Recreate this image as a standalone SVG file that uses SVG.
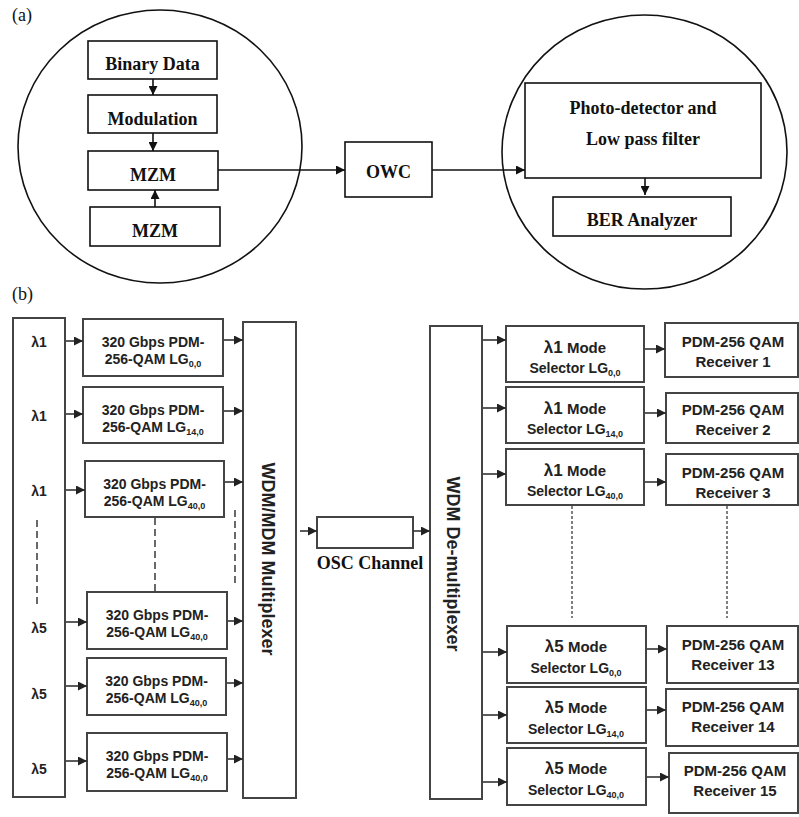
<svg xmlns="http://www.w3.org/2000/svg" width="799" height="817" viewBox="0 0 799 817">
<defs>
<style>
.bg{fill:#fff}
.a{fill:#fff;stroke:#111;stroke-width:1.6}
.al{fill:none;stroke:#111;stroke-width:1.6}
.b{fill:#fff;stroke:#444;stroke-width:2}
.bl{fill:none;stroke:#333;stroke-width:1.6}
.dash{fill:none;stroke:#444;stroke-width:1.6;stroke-dasharray:7 4}
.dot{fill:none;stroke:#555;stroke-width:1.5;stroke-dasharray:3 2}
.ts{font-family:"Liberation Serif","Times New Roman",serif;font-weight:bold;font-size:18px;fill:#111;text-anchor:middle}
.tl{font-family:"Liberation Serif","Times New Roman",serif;font-size:18px;fill:#111}
.tb{font-family:"Liberation Sans",Arial,sans-serif;font-weight:bold;font-size:14px;fill:#222;text-anchor:middle}
.tr{font-family:"Liberation Sans",Arial,sans-serif;font-weight:bold;font-size:15px;fill:#222;text-anchor:middle}
.tv{font-family:"Liberation Sans",Arial,sans-serif;font-weight:bold;font-size:18px;fill:#222;text-anchor:middle}
.sub{font-size:9px}
</style>
<marker id="ha" viewBox="0 0 10 10" refX="10" refY="5" markerWidth="10" markerHeight="9" markerUnits="userSpaceOnUse" orient="auto"><path d="M0,0 L10,5 L0,10 z" fill="#111"/></marker>
<marker id="hb" viewBox="0 0 10 10" refX="10" refY="5" markerWidth="10" markerHeight="9" markerUnits="userSpaceOnUse" orient="auto"><path d="M0,0 L10,5 L0,10 z" fill="#222"/></marker>
</defs>
<rect class="bg" x="0" y="0" width="799" height="817"/>

<!-- Part (a) -->
<text class="tl" x="12" y="21">(a)</text>
<ellipse class="al" cx="160" cy="146.5" rx="142" ry="136.5"/>
<ellipse class="al" cx="644.5" cy="152" rx="142.5" ry="137"/>

<g id="binary"><rect class="a" x="88" y="41" width="129" height="38"/><text class="ts" x="152.5" y="70">Binary Data</text></g>
<g id="modulation"><rect class="a" x="88" y="95" width="129" height="38"/><text class="ts" x="152.5" y="125">Modulation</text></g>
<g id="mzm1"><rect class="a" x="88" y="151" width="130" height="39"/><text class="ts" x="153" y="181">MZM</text></g>
<g id="mzm2"><rect class="a" x="90" y="207" width="130" height="39"/><text class="ts" x="155" y="237">MZM</text></g>
<g id="owc"><rect class="a" x="345" y="142" width="87" height="55"/><text class="ts" x="388.5" y="178" font-size="20">OWC</text></g>
<g id="photo"><rect class="a" x="525" y="83" width="236" height="95"/><text class="ts" x="643" y="114" font-size="20">Photo-detector and</text><text class="ts" x="643" y="145" font-size="20">Low pass filter</text></g>
<g id="ber"><rect class="a" x="553" y="197" width="178" height="39"/><text class="ts" x="642" y="226">BER Analyzer</text></g>

<g id="connectors-a">
<line class="al" x1="153" y1="79" x2="153" y2="95" marker-end="url(#ha)"/>
<line class="al" x1="153" y1="133" x2="153" y2="151" marker-end="url(#ha)"/>
<line class="al" x1="155" y1="207" x2="155" y2="190" marker-end="url(#ha)"/>
<line class="al" x1="218" y1="170" x2="345" y2="170" marker-end="url(#ha)"/>
<line class="al" x1="432" y1="170" x2="525" y2="170" marker-end="url(#ha)"/>
<line class="al" x1="645" y1="178" x2="645" y2="195" marker-end="url(#ha)"/>
</g>

<!-- Part (b) -->
<text class="tl" x="12" y="300">(b)</text>

<g id="lambda-col">
<rect class="b" x="13" y="318" width="52" height="479"/>
<text class="tb" font-size="16" x="39" y="347">λ1</text>
<text class="tb" font-size="16" x="39" y="421">λ1</text>
<text class="tb" font-size="16" x="39" y="496">λ1</text>
<text class="tb" font-size="16" x="39" y="633">λ5</text>
<text class="tb" font-size="16" x="39" y="699">λ5</text>
<text class="tb" font-size="16" x="39" y="774">λ5</text>
<line class="dash" x1="37" y1="520" x2="37" y2="607"/>
</g>

<g id="tx1"><rect class="b" x="83" y="319" width="140" height="57"/><text class="tb" x="153" y="347">320 Gbps PDM-</text><text class="tb" x="153" y="364">256-QAM LG<tspan class="sub" dy="3">0,0</tspan></text></g>
<g id="tx2"><rect class="b" x="83" y="387" width="140" height="56"/><text class="tb" x="153" y="415">320 Gbps PDM-</text><text class="tb" x="153" y="432">256-QAM LG<tspan class="sub" dy="3">14,0</tspan></text></g>
<g id="tx3"><rect class="b" x="85" y="461" width="139" height="56"/><text class="tb" x="154.5" y="489">320 Gbps PDM-</text><text class="tb" x="154.5" y="506">256-QAM LG<tspan class="sub" dy="3">40,0</tspan></text></g>
<g id="tx4"><rect class="b" x="87" y="592" width="140" height="57"/><text class="tb" x="157" y="620">320 Gbps PDM-</text><text class="tb" x="157" y="637">256-QAM LG<tspan class="sub" dy="3">40,0</tspan></text></g>
<g id="tx5"><rect class="b" x="87" y="658" width="139" height="57"/><text class="tb" x="156.5" y="686">320 Gbps PDM-</text><text class="tb" x="156.5" y="703">256-QAM LG<tspan class="sub" dy="3">40,0</tspan></text></g>
<g id="tx6"><rect class="b" x="87" y="733" width="140" height="58"/><text class="tb" x="157" y="761">320 Gbps PDM-</text><text class="tb" x="157" y="778">256-QAM LG<tspan class="sub" dy="3">40,0</tspan></text></g>

<g id="mux"><rect class="b" x="243" y="322" width="53" height="476"/><text class="tv" transform="translate(262,559) rotate(90)">WDM/MDM Multiplexer</text></g>

<g id="osc"><rect class="b" x="317" y="517" width="96" height="31"/><text class="ts" x="370" y="569">OSC Channel</text></g>

<g id="demux"><rect class="b" x="430" y="326" width="52" height="473"/><text class="tv" transform="translate(447,564) rotate(90)">WDM De-multiplexer</text></g>

<g id="sel1"><rect class="b" x="506" y="326" width="138" height="56"/><text class="tr" x="575" y="353"><tspan font-size="17">λ1</tspan> Mode</text><text class="tb" x="575" y="373">Selector LG<tspan class="sub" dy="3">0,0</tspan></text></g>
<g id="sel2"><rect class="b" x="506" y="387" width="138" height="56"/><text class="tr" x="575" y="414"><tspan font-size="17">λ1</tspan>  Mode</text><text class="tb" x="575" y="434">Selector LG<tspan class="sub" dy="3">14,0</tspan></text></g>
<g id="sel3"><rect class="b" x="506" y="449" width="138" height="56"/><text class="tr" x="575" y="476"><tspan font-size="17">λ1</tspan>  Mode</text><text class="tb" x="575" y="496">Selector LG<tspan class="sub" dy="3">40,0</tspan></text></g>
<g id="sel4"><rect class="b" x="507" y="626" width="139" height="57"/><text class="tr" x="576" y="652"><tspan font-size="17">λ5</tspan> Mode</text><text class="tb" x="576" y="673">Selector LG<tspan class="sub" dy="3">0,0</tspan></text></g>
<g id="sel5"><rect class="b" x="507" y="687" width="139" height="56"/><text class="tr" x="576" y="713"><tspan font-size="17">λ5</tspan> Mode</text><text class="tb" x="576" y="734">Selector LG<tspan class="sub" dy="3">14,0</tspan></text></g>
<g id="sel6"><rect class="b" x="507" y="748" width="139" height="57"/><text class="tr" x="576" y="774"><tspan font-size="17">λ5</tspan> Mode</text><text class="tb" x="576" y="795">Selector LG<tspan class="sub" dy="3">40,0</tspan></text></g>

<g id="rx1"><rect class="b" x="665" y="323" width="133" height="54"/><text class="tr" x="733" y="347">PDM-256 QAM</text><text class="tr" x="733" y="367">Receiver 1</text></g>
<g id="rx2"><rect class="b" x="666" y="393" width="132" height="50"/><text class="tr" x="733" y="415">PDM-256 QAM</text><text class="tr" x="733" y="435">Receiver 2</text></g>
<g id="rx3"><rect class="b" x="666" y="454" width="132" height="51"/><text class="tr" x="733" y="478">PDM-256 QAM</text><text class="tr" x="733" y="498">Receiver 3</text></g>
<g id="rx13"><rect class="b" x="667" y="626" width="131" height="57"/><text class="tr" x="733" y="650">PDM-256 QAM</text><text class="tr" x="733" y="670">Receiver 13</text></g>
<g id="rx14"><rect class="b" x="666" y="689" width="132" height="57"/><text class="tr" x="733" y="712">PDM-256 QAM</text><text class="tr" x="733" y="732">Receiver 14</text></g>
<g id="rx15"><rect class="b" x="669" y="753" width="129" height="60"/><text class="tr" x="735" y="776">PDM-256 QAM</text><text class="tr" x="735" y="796">Receiver 15</text></g>

<g id="connectors-b">
<line class="bl" x1="66" y1="341" x2="83" y2="341" marker-end="url(#hb)"/>
<line class="bl" x1="66" y1="414" x2="83" y2="414" marker-end="url(#hb)"/>
<line class="bl" x1="66" y1="490" x2="85" y2="490" marker-end="url(#hb)"/>
<line class="bl" x1="66" y1="622" x2="87" y2="622" marker-end="url(#hb)"/>
<line class="bl" x1="66" y1="686" x2="87" y2="686" marker-end="url(#hb)"/>
<line class="bl" x1="66" y1="761" x2="87" y2="761" marker-end="url(#hb)"/>

<line class="bl" x1="224" y1="340" x2="243" y2="340" marker-end="url(#hb)"/>
<line class="bl" x1="224" y1="411" x2="243" y2="411" marker-end="url(#hb)"/>
<line class="bl" x1="225" y1="482" x2="243" y2="482" marker-end="url(#hb)"/>
<line class="bl" x1="228" y1="621" x2="243" y2="621" marker-end="url(#hb)"/>
<line class="bl" x1="227" y1="683" x2="243" y2="683" marker-end="url(#hb)"/>
<line class="bl" x1="228" y1="759" x2="243" y2="759" marker-end="url(#hb)"/>

<line class="dash" x1="155" y1="518" x2="155" y2="592"/>
<line class="dash" x1="235" y1="510" x2="235" y2="587"/>

<line class="bl" x1="300" y1="531" x2="317" y2="531" marker-end="url(#hb)"/>
<line class="bl" x1="413" y1="531" x2="430" y2="531" marker-end="url(#hb)"/>

<line class="bl" x1="483" y1="340" x2="506" y2="340" marker-end="url(#hb)"/>
<line class="bl" x1="483" y1="408" x2="506" y2="408" marker-end="url(#hb)"/>
<line class="bl" x1="483" y1="474" x2="506" y2="474" marker-end="url(#hb)"/>
<line class="bl" x1="483" y1="652" x2="507" y2="652" marker-end="url(#hb)"/>
<line class="bl" x1="483" y1="715" x2="507" y2="715" marker-end="url(#hb)"/>
<line class="bl" x1="483" y1="782" x2="507" y2="782" marker-end="url(#hb)"/>

<line class="bl" x1="645" y1="349" x2="665" y2="349" marker-end="url(#hb)"/>
<line class="bl" x1="645" y1="413" x2="666" y2="413" marker-end="url(#hb)"/>
<line class="bl" x1="645" y1="482" x2="666" y2="482" marker-end="url(#hb)"/>
<line class="bl" x1="647" y1="649" x2="667" y2="649" marker-end="url(#hb)"/>
<line class="bl" x1="647" y1="710" x2="666" y2="710" marker-end="url(#hb)"/>
<line class="bl" x1="647" y1="777" x2="669" y2="777" marker-end="url(#hb)"/>

<line class="dot" x1="572" y1="506" x2="572" y2="618"/>
<line class="dot" x1="727" y1="506" x2="727" y2="618"/>
</g>
</svg>
